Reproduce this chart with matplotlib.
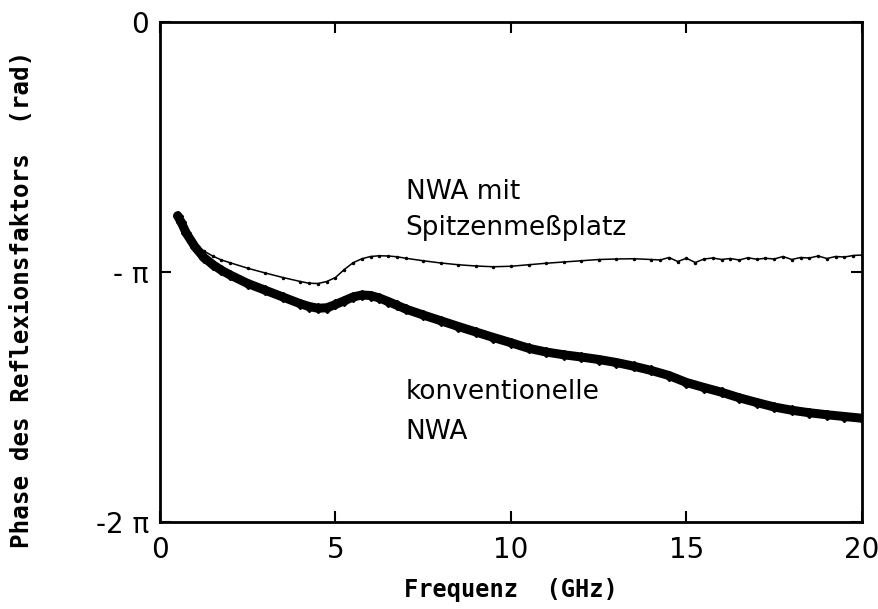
import numpy as np
import matplotlib
matplotlib.use("Agg")
import matplotlib.pyplot as plt

# Frequencies (GHz) and phase values (in units of pi, negative sign applied below)
freq_konv = [0.5, 0.6, 0.75, 1.0, 1.25, 1.5, 1.75, 2.0, 2.5, 3.0, 3.5, 4.0, 4.25, 4.5,
             4.75, 5.0, 5.25, 5.5, 5.75, 6.0, 6.25, 6.5, 6.75, 7.0, 7.5, 8.0, 8.5,
             9.0, 9.5, 10.0, 10.5, 11.0, 11.5, 12.0, 12.5, 13.0, 13.5, 14.0, 14.5,
             15.0, 15.5, 16.0, 16.5, 17.0, 17.5, 18.0, 18.5, 19.0, 19.5, 20.0]
phase_konv = [0.775, 0.800, 0.845, 0.900, 0.942, 0.970, 0.993, 1.012, 1.046, 1.073,
              1.100, 1.127, 1.138, 1.145, 1.143, 1.130, 1.115, 1.100, 1.092, 1.094,
              1.104, 1.118, 1.133, 1.148, 1.172, 1.195, 1.218, 1.240, 1.262, 1.283,
              1.305, 1.320, 1.331, 1.340, 1.350, 1.362, 1.377, 1.394, 1.414, 1.442,
              1.462, 1.481, 1.503, 1.522, 1.540, 1.553, 1.563, 1.571, 1.578, 1.585]

freq_spitze = [0.5, 0.6, 0.75, 1.0, 1.25, 1.5, 1.75, 2.0, 2.5, 3.0, 3.5, 4.0, 4.25, 4.5,
               4.75, 5.0, 5.25, 5.5, 5.75, 6.0, 6.25, 6.5, 6.75, 7.0, 7.5, 8.0, 8.5,
               9.0, 9.5, 10.0, 10.5, 11.0, 11.5, 12.0, 12.5, 13.0, 13.5, 14.0, 14.25,
               14.5, 14.75, 15.0, 15.25, 15.5, 15.75, 16.0, 16.25, 16.5, 16.75, 17.0,
               17.25, 17.5, 17.75, 18.0, 18.25, 18.5, 18.75, 19.0, 19.25, 19.5, 19.75, 20.0]
phase_spitze = [0.775, 0.800, 0.840, 0.888, 0.916, 0.936, 0.952, 0.963, 0.985, 1.004,
                1.022, 1.038, 1.045, 1.046, 1.038, 1.022, 0.990, 0.963, 0.947, 0.938,
                0.935, 0.936, 0.939, 0.945, 0.955, 0.964, 0.971, 0.976, 0.979, 0.977,
                0.971, 0.965, 0.960, 0.955, 0.950, 0.948, 0.947, 0.950, 0.952, 0.942,
                0.958, 0.945, 0.962, 0.948, 0.944, 0.950, 0.946, 0.952, 0.943, 0.949,
                0.945, 0.948, 0.938, 0.950, 0.942, 0.944, 0.936, 0.946, 0.938, 0.940,
                0.934, 0.932]

x_ticks = [0, 5, 10, 15, 20]
y_ticks_pi = [0, -1, -2]
y_tick_labels = ["0", "- \u03c0", "-2 \u03c0"]

label_spitze = ["NWA mit", "Spitzenmeßplatz"]
label_konv = ["konventionelle", "NWA"]

fig = plt.figure(figsize=(8.79, 6.09), dpi=100)
ax = fig.add_axes([160 / 879, 87 / 609, 702 / 879, 500 / 609])

pi = np.pi
yk = -np.array(phase_konv) * pi
ys = -np.array(phase_spitze) * pi

ax.plot(freq_konv, yk, color="black", lw=6.5, solid_capstyle="round",
        solid_joinstyle="round", zorder=3)
ax.plot(freq_konv, yk, "D", color="black", ms=5.5, zorder=3)
ax.plot(freq_spitze, ys, color="black", lw=1.1, zorder=4)
ax.plot(freq_spitze, ys, ".", color="black", ms=3, zorder=4)

ax.set_xlim(0, 20)
ax.set_ylim(-2 * pi, 0)
ax.set_xticks(x_ticks)
ax.set_yticks(np.array(y_ticks_pi) * pi)
ax.set_yticklabels(y_tick_labels)

for lab in ax.get_xticklabels() + ax.get_yticklabels():
    lab.set_fontfamily("DejaVu Sans")
    lab.set_fontsize(20)

ax.tick_params(direction="in", length=8, width=1.5, top=True, right=True,
               pad=8, labelsize=20)
ax.tick_params(axis="x", pad=10)
for s in ax.spines.values():
    s.set_linewidth(2.0)

ax.set_xlabel("Frequenz  (GHz)", family="DejaVu Sans Mono", fontsize=17,
              fontweight="bold", labelpad=10)
ax.set_ylabel("Phase des Reflexionsfaktors  (rad)", family="DejaVu Sans Mono",
              fontsize=17.5, fontweight="bold", labelpad=0)
ax.yaxis.set_label_coords(-0.18, 0.445)

txt = dict(family="DejaVu Sans", fontsize=19, va="baseline", ha="left")
ax.text(7.0, -0.708 * pi, label_spitze[0], **txt)
ax.text(7.0, -0.853 * pi, label_spitze[1], **txt)
ax.text(7.0, -1.509 * pi, label_konv[0], **txt)
ax.text(7.0, -1.669 * pi, label_konv[1], **txt)

fig.savefig("out.png", dpi=100)
